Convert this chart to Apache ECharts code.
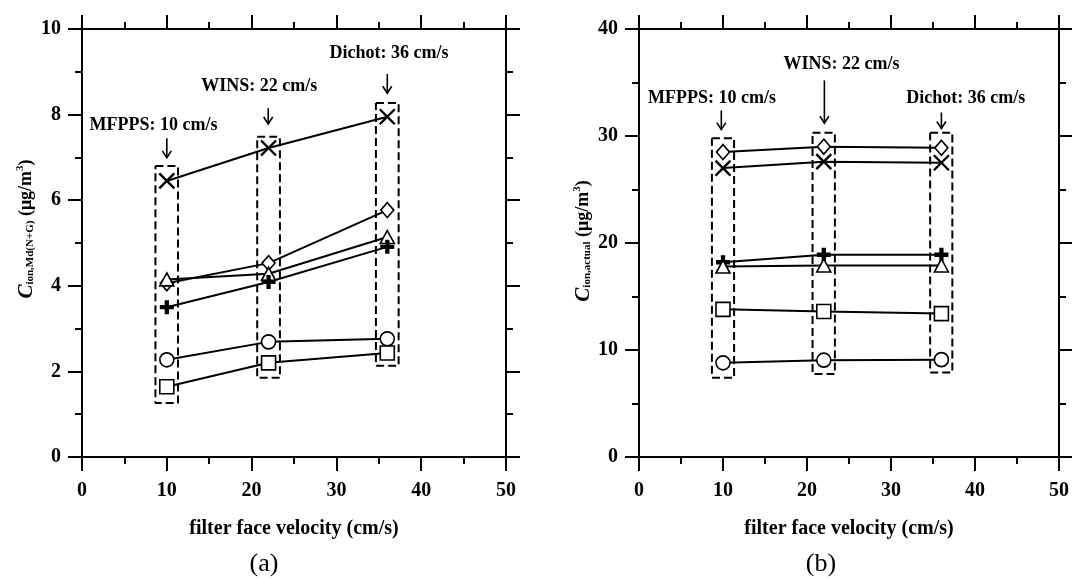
<!DOCTYPE html>
<html><head><meta charset="utf-8">
<script src="https://cdn.jsdelivr.net/npm/echarts@6/dist/echarts.min.js"></script>
<style>html,body{margin:0;padding:0;background:#fff}#c{width:1072px;height:579px}</style>
</head><body><div id="c"></div>
<script>
// ---- data ----
const velocities = [10, 22, 36];
const xTicks = [0, 10, 20, 30, 40, 50];
// panel (a): C_ion,Md(N+G) (µg/m3)
const aCross    = [6.45, 7.22, 7.95];
const aDiamond  = [4.06, 4.53, 5.77];
const aTriangle = [4.15, 4.28, 5.14];
const aPlus     = [3.50, 4.09, 4.91];
const aCircle   = [2.27, 2.69, 2.76];
const aSquare   = [1.64, 2.20, 2.43];
// panel (b): C_ion,actual (µg/m3)
const bDiamond  = [28.5, 29.0, 28.9];
const bCross    = [27.0, 27.6, 27.5];
const bPlus     = [18.2, 18.9, 18.9];
const bTriangle = [17.8, 17.9, 17.9];
const bSquare   = [13.8, 13.6, 13.4];
const bCircle   = [8.8, 9.05, 9.1];
// dashed boxes around each sampler group [xLow, xHigh, yLow, yHigh]
const aBoxes = [[8.66, 11.32, 1.26, 6.80], [20.66, 23.34, 1.85, 7.48], [34.66, 37.34, 2.13, 8.27]];
const bBoxes = [[8.68, 11.32, 7.4, 29.8], [20.66, 23.32, 7.75, 30.3], [34.66, 37.3, 7.9, 30.3]];
// annotations: label, text pos (x,y) and arrow (x, yTop, yTip) in data units
const samplerLabels = ['MFPPS: 10 cm/s', 'WINS: 22 cm/s', 'Dichot: 36 cm/s'];
const aTextPos = [[8.42, 7.76], [20.9, 8.67], [36.2, 9.42]];
const aArrows  = [[10.0, 7.45, 6.99], [21.96, 8.15, 7.78], [36.0, 8.95, 8.50]];
const bTextPos = [[8.69, 33.55], [24.1, 36.7], [38.9, 33.55]];
const bArrows  = [[9.8, 32.4, 30.6], [22.07, 35.2, 31.2], [36.0, 32.2, 30.7]];

const FONT = "'Liberation Serif','Times New Roman',serif";
const BLACK = '#000';

const chart = echarts.init(document.getElementById('c'), null, {renderer: 'canvas'});

function xAxis(grid, top, showLabel) {
  return {
    type: 'value', gridIndex: grid, position: top ? 'top' : 'bottom',
    min: 0, max: 50, interval: 10,
    axisLine: {show: true, onZero: false, lineStyle: {color: BLACK, width: 2}},
    axisTick: {show: true, inside: false, length: 14, lineStyle: {color: BLACK, width: 2}},
    minorTick: {show: true, splitNumber: 2, length: 7, lineStyle: {color: BLACK, width: 2}},
    splitLine: {show: false},
    axisLabel: {show: showLabel, inside: false, margin: 24, color: BLACK, fontFamily: FONT, fontWeight: 'bold', fontSize: 20,
      formatter: v => xTicks.includes(v) ? String(v) : ''},
    name: showLabel ? 'filter face velocity (cm/s)' : '',
    nameLocation: 'middle', nameGap: 62,
    nameTextStyle: {color: BLACK, fontFamily: FONT, fontWeight: 'bold', fontSize: 20}
  };
}
function yAxis(grid, right, max, interval, showLabel, name, nameGap, shift) {
  return {
    type: 'value', gridIndex: grid, position: right ? 'right' : 'left',
    min: 0, max: max, interval: interval,
    axisLine: {show: true, onZero: false, lineStyle: {color: BLACK, width: 2}},
    axisTick: {show: true, inside: false, length: 14, lineStyle: {color: BLACK, width: 2}},
    minorTick: {show: true, splitNumber: 2, length: 7, lineStyle: {color: BLACK, width: 2}},
    splitLine: {show: false},
    axisLabel: {show: showLabel, margin: 21, color: BLACK, fontFamily: FONT, fontWeight: 'bold', fontSize: 20},
    name: showLabel ? name : '',
    nameLocation: 'middle', nameRotate: 90, nameGap: nameGap,
    nameTextStyle: {
      color: BLACK,
      padding: [0, 0, 0, shift || 0],
      rich: {
        c: {fontFamily: FONT, fontStyle: 'italic', fontWeight: 'bold', fontSize: 21, lineHeight: 24, color: BLACK},
        s: {fontFamily: FONT, fontWeight: 'bold', fontSize: 11, lineHeight: 11, verticalAlign: 'middle', padding: [9, 0, 0, 0], color: BLACK},
        u: {fontFamily: FONT, fontWeight: 'bold', fontSize: 18, lineHeight: 24, color: BLACK},
        p: {fontFamily: FONT, fontWeight: 'bold', fontSize: 11, lineHeight: 11, verticalAlign: 'middle', padding: [0, 0, 11, 0], color: BLACK}
      }
    }
  };
}

const SYM = {
  cross: 'path://M0,0L10,10M10,0L0,10',
  plus: 'path://M4.5,0H8.5V4.5H13V8.5H8.5V13H4.5V8.5H0V4.5H4.5Z'
};
function series(xi, yi, values, kind) {
  let symbol, size, item;
  const open = {color: '#fff', borderColor: BLACK, borderWidth: 1.6};
  switch (kind) {
    case 'cross': symbol = SYM.cross; size = 15; item = {color: 'rgba(0,0,0,0)', borderColor: BLACK, borderWidth: 2.4}; break;
    case 'plus': symbol = SYM.plus; size = 14; item = {color: BLACK, borderWidth: 0}; break;
    case 'diamond': symbol = 'diamond'; size = [13, 15]; item = open; break;
    case 'triangle': symbol = 'triangle'; size = [14, 13]; item = open; break;
    case 'circle': symbol = 'circle'; size = 14; item = open; break;
    case 'rect': symbol = 'rect'; size = 14; item = open; break;
  }
  return {
    type: 'line', xAxisIndex: xi, yAxisIndex: yi, z: 3,
    data: velocities.map((v, i) => [v, values[i]]),
    symbol: symbol, symbolSize: size, showAllSymbol: true,
    lineStyle: {color: BLACK, width: 2}, itemStyle: item,
    emphasis: {disabled: true}, silent: true
  };
}
function boxSeries(xi, yi, b) {
  return {
    type: 'line', xAxisIndex: xi, yAxisIndex: yi, z: 2,
    data: [[b[0], b[3]], [b[1], b[3]], [b[1], b[2]], [b[0], b[2]], [b[0], b[3]]],
    symbol: 'none', lineStyle: {color: BLACK, width: 2, type: [8, 4]},
    emphasis: {disabled: true}, silent: true
  };
}

const seriesList = [
  series(0, 0, aCross, 'cross'),
  series(0, 0, aDiamond, 'diamond'),
  series(0, 0, aTriangle, 'triangle'),
  series(0, 0, aPlus, 'plus'),
  series(0, 0, aCircle, 'circle'),
  series(0, 0, aSquare, 'rect'),
  series(2, 2, bDiamond, 'diamond'),
  series(2, 2, bCross, 'cross'),
  series(2, 2, bPlus, 'plus'),
  series(2, 2, bTriangle, 'triangle'),
  series(2, 2, bSquare, 'rect'),
  series(2, 2, bCircle, 'circle')
];
aBoxes.forEach(b => seriesList.push(boxSeries(0, 0, b)));
bBoxes.forEach(b => seriesList.push(boxSeries(2, 2, b)));

const option = {
  animation: false,
  backgroundColor: '#fff',
  grid: [
    {left: 82, top: 29, width: 424, height: 428},
    {left: 639, top: 29, width: 425, height: 428}
  ],
  xAxis: [xAxis(0, false, true), xAxis(0, true, false), xAxis(1, false, true), xAxis(1, true, false)],
  yAxis: [
    yAxis(0, false, 10, 2, true, '{c|C}{s|ion,Md(N+G)}{u| (μg/m}{p|3}{u|)}', 41, 28),
    yAxis(0, true, 10, 2, false, '', 0),
    yAxis(1, false, 40, 10, true, '{c|C}{s|ion,actual}{u| (μg/m}{p|3}{u|)}', 42, 4),
    yAxis(1, true, 40, 10, false, '', 0)
  ],
  series: seriesList
};
chart.setOption(option);

// annotations (text + arrows) placed through the axes' own scales
const graphics = [];
function addAnnotations(seriesIndex, textPos, arrows) {
  textPos.forEach((t, i) => {
    const p = chart.convertToPixel({seriesIndex: seriesIndex}, t);
    graphics.push({type: 'text', x: p[0], y: p[1], z: 10,
      style: {text: samplerLabels[i], fill: BLACK, font: 'bold 18px ' + FONT, align: 'center', verticalAlign: 'middle'}});
    const a = arrows[i];
    const top = chart.convertToPixel({seriesIndex: seriesIndex}, [a[0], a[1]]);
    const tip = chart.convertToPixel({seriesIndex: seriesIndex}, [a[0], a[2]]);
    graphics.push({type: 'polyline', z: 10, shape: {points: [top, tip]}, style: {stroke: BLACK, lineWidth: 1.6, fill: null}});
    graphics.push({type: 'polyline', z: 10, shape: {points: [[tip[0] - 4.5, tip[1] - 7], tip, [tip[0] + 4.5, tip[1] - 7]]},
      style: {stroke: BLACK, lineWidth: 1.6, fill: null}});
  });
}
addAnnotations(0, aTextPos, aArrows);
addAnnotations(6, bTextPos, bArrows);
graphics.push({type: 'text', x: 264, y: 564, style: {text: '(a)', fill: BLACK, font: '26px ' + FONT, align: 'center', verticalAlign: 'middle'}});
graphics.push({type: 'text', x: 821, y: 564, style: {text: '(b)', fill: BLACK, font: '26px ' + FONT, align: 'center', verticalAlign: 'middle'}});
chart.setOption({graphic: graphics});
</script>
</body></html>
